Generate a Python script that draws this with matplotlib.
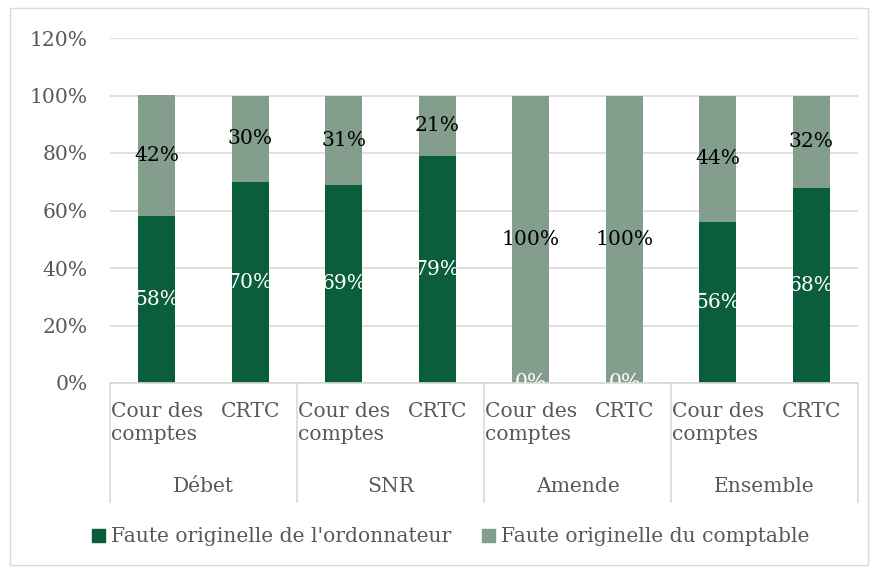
import matplotlib
matplotlib.use("Agg")
import matplotlib.pyplot as plt
import matplotlib.patches as mpatches
import numpy as np

groups = ["Débet", "SNR", "Amende", "Ensemble"]
sub_labels = ["Cour des\ncomptes", "CRTC"]
ordonnateur = [58, 70, 69, 79, 0, 0, 56, 68]
comptable = [42, 30, 31, 21, 100, 100, 44, 32]
series_names = ["Faute originelle de l'ordonnateur", "Faute originelle du comptable"]
y_ticks = [0, 20, 40, 60, 80, 100, 120]

DARK = "#0b5e3b"
LIGHT = "#849e8d"
GRAY = "#595959"
GRID = "#d9d9d9"

plt.rcParams["font.family"] = ["DejaVu Serif"]
plt.rcParams["font.size"] = 14.6

W, H = 877, 569
fig = plt.figure(figsize=(W / 100, H / 100), dpi=100)
ax = fig.add_axes([110 / W, 1 - 383 / H, 748 / W, 345 / H])

x = np.arange(len(ordonnateur))
low = np.array(ordonnateur) / 100
high = np.array(comptable) / 100
ax.bar(x, low, width=0.4, color=DARK, zorder=2)
ax.bar(x, high, width=0.4, bottom=low, color=LIGHT, zorder=2)

for xi, a, b in zip(x, low, high):
    ax.text(xi, a / 2, f"{round(a * 100)}%", ha="center", va="center",
            color="white", zorder=3, clip_on=True)
    ax.text(xi, a + b / 2, f"{round(b * 100)}%", ha="center", va="center",
            color="black", zorder=3, clip_on=True)

ax.set_xlim(-0.5, len(x) - 0.5)
ax.set_ylim(0, 1.2)
ax.set_yticks([t / 100 for t in y_ticks])
ax.set_yticklabels([f"{t}%" for t in y_ticks], color=GRAY)
ax.tick_params(axis="y", length=0, pad=16)
ax.set_xticks([])
ax.yaxis.grid(True, color=GRID, linewidth=1.2, zorder=0)
for s in ["left", "right", "top"]:
    ax.spines[s].set_visible(False)
ax.spines["bottom"].set_color(GRID)
ax.spines["bottom"].set_linewidth(1.2)

# multi-level category axis
trans = matplotlib.transforms.blended_transform_factory(ax.transData, ax.transAxes)
for i in range(len(x)):
    ax.text(i, -0.055, sub_labels[i % 2], transform=trans, ha="center", va="top",
            multialignment="left", linespacing=1.25, color=GRAY)
for g, name in enumerate(groups):
    ax.text(2 * g + 0.5, -0.30, name, transform=trans, ha="center", va="center",
            color=GRAY)
for b in np.arange(-0.5, len(x), 2):
    ax.plot([b, b], [0, -0.345], transform=trans, color=GRID, linewidth=1.2,
            clip_on=False)

handles = [mpatches.Patch(color=DARK), mpatches.Patch(color=LIGHT)]
leg = fig.legend(handles, series_names, loc="center", bbox_to_anchor=(0.514, 1 - 537 / H),
                 ncol=2, frameon=False, handlelength=0.65, handleheight=0.65,
                 handletextpad=0.3, columnspacing=1.5)
for t in leg.get_texts():
    t.set_color(GRAY)

fig.patches.append(mpatches.Rectangle((10 / W, 4 / H), 858 / W, 557 / H, transform=fig.transFigure,
                                      fill=False, edgecolor=GRID, linewidth=1))

fig.savefig("out.png", dpi=100)
